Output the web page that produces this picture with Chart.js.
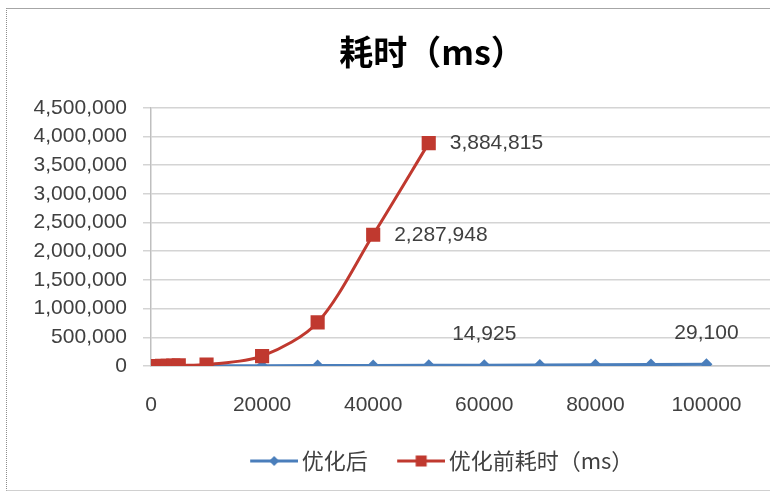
<!DOCTYPE html>
<html>
<head>
<meta charset="utf-8">
<script src="https://cdn.jsdelivr.net/npm/chart.js@4/dist/chart.umd.min.js"></script>
<style>
  html, body { margin: 0; padding: 0; background: #fff; overflow: hidden; width: 770px; height: 492px; }
  #frame {
    position: absolute; left: 6px; top: 8px; width: 850px; height: 481px;
    border-top: 1px solid #a6a6a6; border-left: 1px dotted #8c8c8c; border-bottom: 1px solid #d0d0d0;
  }
  #c { position: absolute; left: 0; top: 0; }
</style>
</head>
<body>
<div id="frame"><canvas id="c" width="850" height="481"></canvas></div>
<script>
// Row counts (x) and elapsed milliseconds (y) for each run
const sizesBefore = [100, 1000, 2000, 3000, 4000, 5000, 10000, 20000, 30000, 40000, 50000];
const timeBefore  = [5, 400, 1600, 3500, 6200, 9800, 25000, 172000, 760000, 2287948, 3884815];

const sizesAfter = [100, 1000, 2000, 3000, 4000, 5000, 10000, 20000, 30000, 40000, 50000, 60000, 70000, 80000, 90000, 100000];
const timeAfter  = [30, 260, 520, 800, 1050, 1300, 2600, 5300, 7900, 10400, 12600, 14925, 18500, 21600, 25000, 29100];

// Points whose values are printed next to the marker
const labelledBefore = [40000, 50000];
const labelledAfter  = [60000, 100000];

const seriesNames = ['优化后', '优化前耗时（ms）'];
const chartTitle = '耗时（ms）';

const xTickValues = [0, 20000, 40000, 60000, 80000, 100000, 120000];
const yTickValues = [0, 500000, 1000000, 1500000, 2000000, 2500000, 3000000, 3500000, 4000000, 4500000];

const BLUE = '#4A7EBB';
const RED = '#C0392F';
const NUM_FONT = "'Liberation Sans', Arial, sans-serif";
const CJK_FONT = "'Noto Sans CJK SC', 'Liberation Sans', sans-serif";
const fmt = v => v.toLocaleString('en-US');

const toPoints = (xs, ys) => xs.map((x, i) => ({ x, y: ys[i] }));

// Legend swatches: a short line with the series marker in the middle
function legendIcon(color, marker) {
  const c = document.createElement('canvas');
  c.width = 75; c.height = 18;
  const g = c.getContext('2d');
  g.strokeStyle = color; g.lineWidth = 3;
  g.beginPath(); g.moveTo(27, 9); g.lineTo(75, 9); g.stroke();
  g.fillStyle = color;
  const cx = 51, cy = 9;
  if (marker === 'diamond') {
    g.beginPath(); g.moveTo(cx, cy - 5); g.lineTo(cx + 5, cy); g.lineTo(cx, cy + 5); g.lineTo(cx - 5, cy); g.closePath(); g.fill();
  } else {
    g.fillRect(cx - 5.5, cy - 5.5, 11, 11);
  }
  return c;
}
const legendIcons = [legendIcon(BLUE, 'diamond'), legendIcon(RED, 'square')];

// Value labels drawn beside selected points
const valueLabels = {
  id: 'valueLabels',
  afterDatasetsDraw(chart) {
    const ctx = chart.ctx;
    chart.data.datasets.forEach((ds, di) => {
      const meta = chart.getDatasetMeta(di);
      ds.data.forEach((pt, i) => {
        if (!ds.labelAt.includes(pt.x)) return;
        const el = meta.data[i];
        ctx.save();
        ctx.font = '21px ' + NUM_FONT;
        ctx.fillStyle = '#3f3f3f';
        ctx.textBaseline = 'middle';
        if (ds.labelSide === 'right') {
          ctx.textAlign = 'left';
          ctx.fillText(fmt(pt.y), el.x + 21, el.y);
        } else {
          ctx.textAlign = 'center';
          ctx.fillText(fmt(pt.y), el.x, el.y - 31);
        }
        ctx.restore();
      });
    });
  }
};

new Chart(document.getElementById('c'), {
  type: 'scatter',
  data: {
    datasets: [
      {
        label: seriesNames[0],
        data: toPoints(sizesAfter, timeAfter),
        showLine: true,
        borderColor: BLUE, backgroundColor: BLUE,
        borderWidth: 3,
        pointStyle: 'rectRot', pointRadius: 6, pointHoverRadius: 6,
        pointBorderWidth: 0,
        tension: 0,
        order: 1,
        labelAt: labelledAfter, labelSide: 'above'
      },
      {
        label: seriesNames[1],
        data: toPoints(sizesBefore, timeBefore),
        showLine: true,
        borderColor: RED, backgroundColor: RED,
        borderWidth: 3,
        pointStyle: 'rect', pointRadius: 10, pointHoverRadius: 10,
        pointBorderWidth: 0,
        tension: 0.3,
        order: 0,
        labelAt: labelledBefore, labelSide: 'right'
      }
    ]
  },
  options: {
    responsive: false,
    animation: false,
    layout: { padding: { left: 0, right: 0, top: 0, bottom: 8 } },
    plugins: {
      tooltip: { enabled: false },
      title: {
        display: true,
        text: chartTitle,
        color: '#000',
        font: { family: CJK_FONT, size: 34, weight: 'bold', lineHeight: 1.2 },
        padding: { top: 23, bottom: 35 }
      },
      legend: {
        position: 'bottom',
        labels: {
          usePointStyle: true,
          pointStyleWidth: 60,
          padding: 10,
          color: '#404040',
          font: { family: CJK_FONT, size: 22 },
          generateLabels(chart) {
            return chart.data.datasets.map((ds, i) => ({
              text: ds.label,
              pointStyle: legendIcons[i],
              datasetIndex: i,
              fontColor: '#404040',
              lineWidth: 0,
              strokeStyle: 'rgba(0,0,0,0)',
              fillStyle: 'rgba(0,0,0,0)',
              hidden: false
            }));
          }
        }
      }
    },
    scales: {
      x: {
        type: 'linear',
        min: 0, max: 125300,
        afterBuildTicks(scale) { scale.ticks = xTickValues.map(v => ({ value: v })); },
        afterFit(scale) { scale.height = 74; },
        grid: { display: false, drawTicks: false },
        border: { display: true, color: '#c8c8c8', width: 1.5 },
        ticks: {
          padding: 27,
          color: '#404040',
          font: { family: NUM_FONT, size: 21 },
          maxRotation: 0,
          callback: v => (v > 100000 ? '' : String(v))
        }
      },
      y: {
        min: 0, max: 4500000,
        afterBuildTicks(scale) { scale.ticks = yTickValues.map(v => ({ value: v })); },
        afterFit(scale) { scale.width = 144; },
        grid: { color: '#d4d4d4', lineWidth: 1.5, drawTicks: true, tickLength: 8 },
        border: { display: true, color: '#bfbfbf', width: 1.5 },
        ticks: {
          padding: 16,
          color: '#404040',
          font: { family: NUM_FONT, size: 21 },
          callback: v => fmt(v)
        }
      }
    }
  },
  plugins: [valueLabels]
});
</script>
</body>
</html>
